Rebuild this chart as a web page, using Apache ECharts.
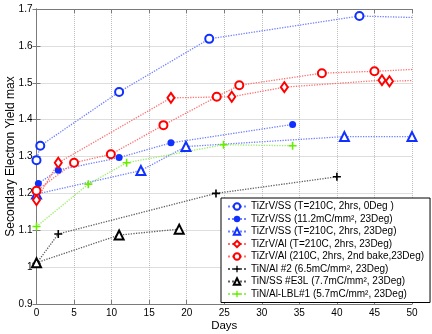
<!DOCTYPE html>
<html>
<head>
<meta charset="utf-8">
<script src="https://cdn.jsdelivr.net/npm/echarts@6/dist/echarts.min.js"></script>
<style>
  html, body { margin: 0; padding: 0; background: #fff; }
  #chart { width: 432px; height: 334px; }
</style>
</head>
<body>
<div id="chart"></div>
<script>
// legend names
const names = [
  "TiZrV/SS (T=210C, 2hrs, 0Deg )",
  "TiZrV/SS (11.2mC/mm\u00b2, 23Deg)",
  "TiZrV/SS (T=210C, 2hrs, 23Deg)",
  "TiZrV/Al (T=210C, 2hrs, 23Deg)",
  "TiZrV/Al (210C, 2hrs, 2nd bake,23Deg)",
  "TiN/Al #2 (6.5mC/mm\u00b2, 23Deg)",
  "TiN/SS #E3L (7.7mC/mm\u00b2, 23Deg)",
  "TiN/Al-LBL#1 (5.7mC/mm\u00b2, 23Deg)"
];

// measured points (days, yield)
const ssNoBakeDays = [0, 0.5, 11, 23, 43];
const ssNoBakeVals = [1.290, 1.329, 1.475, 1.619, 1.681];
const ssDoseDays = [0.25, 2.9, 11, 17.9, 34.1];
const ssDoseVals = [1.227, 1.263, 1.297, 1.337, 1.387];
const ss23Days = [0, 13.9, 19.9, 41, 50];
const ss23Vals = [1.198, 1.262, 1.327, 1.354, 1.354];
const alDays = [0, 2.9, 17.9, 26, 33, 46, 47];
const alVals = [1.182, 1.283, 1.459, 1.462, 1.488, 1.507, 1.504];
const al2Days = [0, 5, 9.9, 16.9, 24, 27, 38, 45];
const al2Vals = [1.207, 1.283, 1.306, 1.385, 1.462, 1.493, 1.526, 1.531];
const tinAlDays = [0, 2.9, 23.9, 40];
const tinAlVals = [1.010, 1.090, 1.200, 1.245];
const tinSsDays = [0, 11, 19];
const tinSsVals = [1.012, 1.087, 1.103];
const lblDays = [0, 6.9, 12, 24.9, 34.1];
const lblVals = [1.110, 1.225, 1.283, 1.332, 1.329];

// where the dotted curves run on past the last marker (day 50)
const tailNoBake = 1.677;
const tailAl = 1.506;
const tailAl2 = 1.536;

const plusPath = "path://M4,0h2v4h4v2h-4v4h-2v-4h-4v-2h4z";

function pts(days, vals, tail) {
  let d = days.map((x, i) => [x, vals[i]]);
  if (tail !== undefined) {
    d.push({ value: [50, tail], symbol: "none" });
  }
  return d;
}

function mk(name, data, symbol, size, color, lineColor, filled) {
  return {
    name: name,
    type: "line",
    data: data,
    symbol: symbol,
    symbolSize: size,
    showSymbol: true,
    smooth: false,
    lineStyle: { type: "dotted", width: 1.3, color: lineColor },
    itemStyle: filled
      ? { color: color, borderWidth: 0 }
      : { color: color, borderColor: color, borderWidth: 1.7 },
    z: 3
  };
}

const series = [
  mk(names[0], pts(ssNoBakeDays, ssNoBakeVals, tailNoBake), "emptyCircle", 8, "#1030ff", "#7080ff"),
  mk(names[1], pts(ssDoseDays, ssDoseVals), "circle", 7, "#1030ff", "#7080ff", true),
  mk(names[2], pts(ss23Days, ss23Vals), "emptyTriangle", 9, "#1030ff", "#7080ff"),
  mk(names[3], pts(alDays, alVals, tailAl), "emptyDiamond", [7, 10], "#ff0000", "#ff7070"),
  mk(names[4], pts(al2Days, al2Vals, tailAl2), "emptyCircle", 8, "#ff0000", "#ff7070"),
  mk(names[5], pts(tinAlDays, tinAlVals), plusPath, 8, "#000000", "#606060", true),
  mk(names[6], pts(tinSsDays, tinSsVals), "emptyTriangle", 9, "#000000", "#606060"),
  mk(names[7], pts(lblDays, lblVals), plusPath, 8, "#66ee00", "#99ee66", true)
];

const axisGrey = "#7a7a7a";
const font = "Liberation Sans, Arial, sans-serif";

let myChart = echarts.init(document.getElementById("chart"), null, { renderer: "canvas" });
let option = {
  animation: false,
  backgroundColor: "#fff",
  textStyle: { fontFamily: font },
  grid: { left: 36.5, right: 20, top: 9, bottom: 30, containLabel: false, outerBoundsMode: "none" },
  legend: {
    orient: "vertical",
    left: 221,
    top: 198,
    width: 207,
    padding: [3, 6, 3, 6],
    itemWidth: 18,
    itemHeight: 8,
    itemGap: 1.5,
    backgroundColor: "#fff",
    borderColor: "#000",
    borderWidth: 1,
    textStyle: { fontFamily: font, fontSize: 10, color: "#000", lineHeight: 11 },
    data: names
  },
  xAxis: [
    {
      type: "value",
      min: 0,
      max: 50,
      interval: 5,
      name: "Days",
      nameLocation: "middle",
      nameGap: 16,
      nameMoveOverlap: false,
      nameTextStyle: { fontSize: 11.5, color: "#000", fontFamily: font },
      axisLine: { show: true, lineStyle: { color: axisGrey, width: 1 } },
      axisTick: { show: true, inside: true, length: 4, lineStyle: { color: axisGrey } },
      axisLabel: { fontSize: 10, color: "#000", margin: 4, fontFamily: font },
      splitLine: { show: true, lineStyle: { type: "dotted", color: "#bdbdbd" } }
    },
    {
      type: "value",
      position: "top",
      min: 0,
      max: 50,
      interval: 5,
      axisLine: { show: true, lineStyle: { color: axisGrey, width: 1 } },
      axisTick: { show: true, inside: true, length: 4, lineStyle: { color: axisGrey } },
      axisLabel: { show: false },
      splitLine: { show: false }
    }
  ],
  yAxis: [
    {
      type: "value",
      min: 0.9,
      max: 1.7,
      interval: 0.1,
      name: "Secondary Electron Yield max",
      nameLocation: "middle",
      nameGap: 20,
      nameMoveOverlap: false,
      nameTextStyle: { fontSize: 12, color: "#000", fontFamily: font },
      axisLine: { show: true, lineStyle: { color: axisGrey, width: 1 } },
      axisTick: { show: true, inside: true, length: 4, lineStyle: { color: axisGrey } },
      axisLabel: {
        fontSize: 10,
        color: "#000",
        margin: 4,
        fontFamily: font,
        formatter: v => String(parseFloat(v.toFixed(1)))
      },
      splitLine: { show: true, lineStyle: { type: "dotted", color: "#bdbdbd" } }
    },
    {
      type: "value",
      position: "right",
      min: 0.9,
      max: 1.7,
      interval: 0.1,
      axisLine: { show: true, lineStyle: { color: axisGrey, width: 1 } },
      axisTick: { show: true, inside: true, length: 4, lineStyle: { color: axisGrey } },
      axisLabel: { show: false },
      splitLine: { show: false }
    }
  ],
  series: series
};
myChart.setOption(option);
</script>
</body>
</html>
